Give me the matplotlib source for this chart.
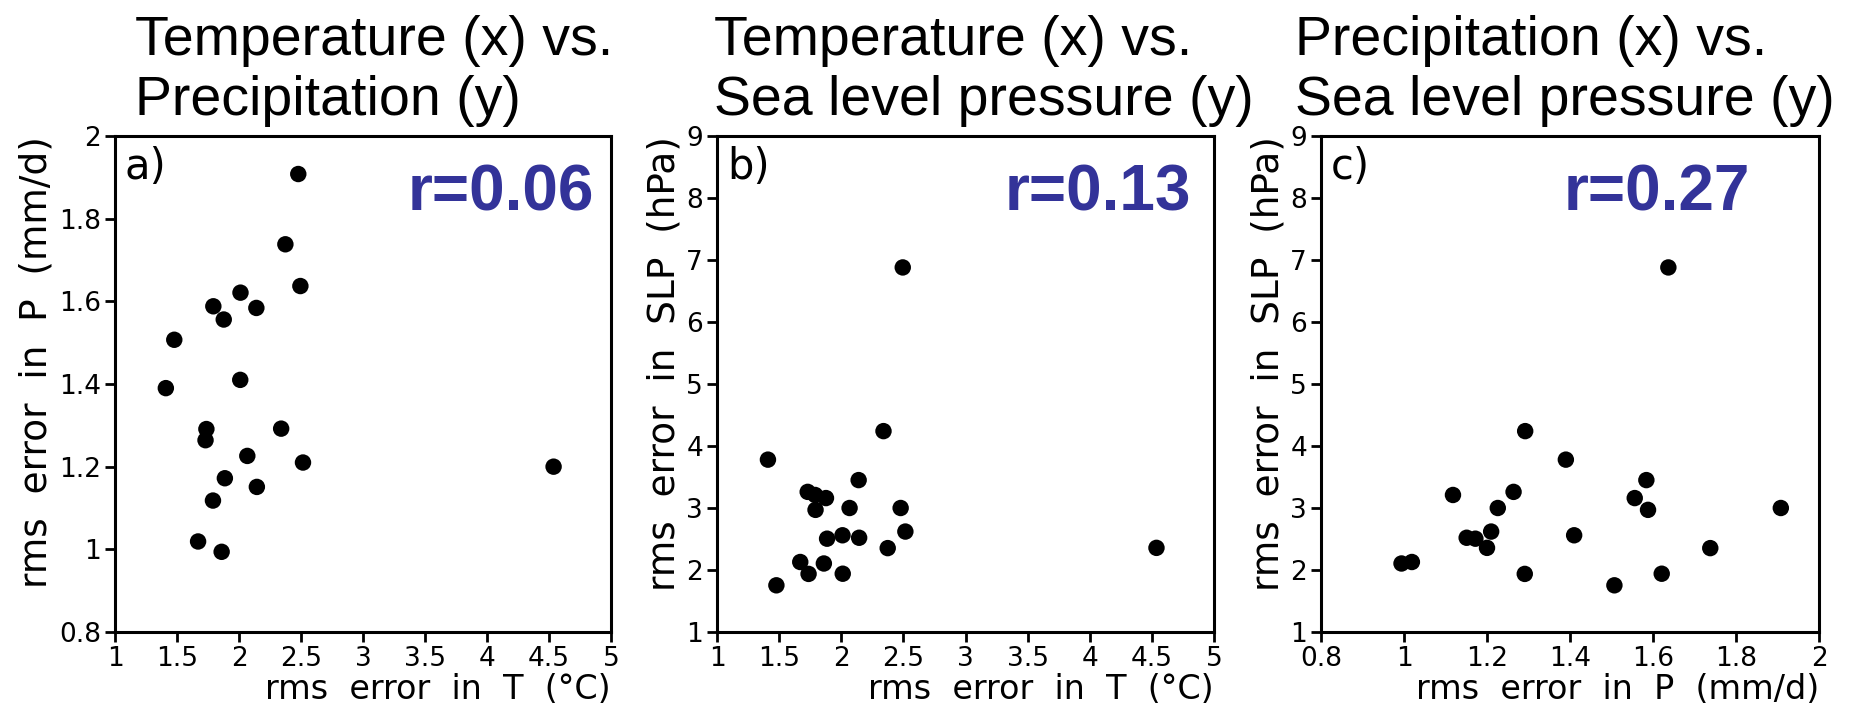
import matplotlib
matplotlib.use("Agg")
import matplotlib.pyplot as plt

# rms errors of the 21 models
temp_err = [2.495, 2.34, 1.41, 2.14, 1.79, 1.73, 1.877, 2.067, 1.793, 2.478, 2.516,
            2.144, 1.886, 4.537, 2.01, 2.374, 1.86, 1.67, 1.737, 2.012, 1.478]
prec_err = [1.637, 1.292, 1.39, 1.584, 1.118, 1.264, 1.556, 1.226, 1.588, 1.908, 1.21,
            1.151, 1.172, 1.20, 1.41, 1.738, 0.994, 1.019, 1.291, 1.621, 1.507]
slp_err = [6.88, 4.24, 3.78, 3.45, 3.21, 3.26, 3.16, 3.00, 2.97, 3.00, 2.62,
           2.52, 2.505, 2.357, 2.56, 2.353, 2.105, 2.129, 1.937, 1.94, 1.753]

titles = [("Temperature (x) vs.", "Precipitation (y)"),
          ("Temperature (x) vs.", "Sea level pressure (y)"),
          ("Precipitation (x) vs.", "Sea level pressure (y)")]
panel_tags = ["a)", "b)", "c)"]
r_values = ["r=0.06", "r=0.13", "r=0.27"]
x_labels = ["rms  error  in  T  (\u00b0C)", "rms  error  in  T  (\u00b0C)", "rms  error  in  P  (mm/d)"]
y_labels = ["rms  error  in  P  (mm/d)", "rms  error  in  SLP  (hPa)", "rms  error  in  SLP  (hPa)"]

x_ticks_T = [1, 1.5, 2, 2.5, 3, 3.5, 4, 4.5, 5]
x_ticks_P = [0.8, 1, 1.2, 1.4, 1.6, 1.8, 2]
y_ticks_P = [0.8, 1, 1.2, 1.4, 1.6, 1.8, 2]
y_ticks_SLP = [1, 2, 3, 4, 5, 6, 7, 8, 9]

W, H = 1851, 710
fig = plt.figure(figsize=(W / 100, H / 100), dpi=100)

# pixel boxes of the three panels: left, right, top, bottom
boxes = [(115, 611, 136, 632), (717, 1214, 136, 632), (1321, 1819, 136, 632)]
title_x = [135, 714, 1295]
r_x = [0.589, 0.578, 0.488]

series = [(temp_err, prec_err, x_ticks_T, y_ticks_P),
          (temp_err, slp_err, x_ticks_T, y_ticks_SLP),
          (prec_err, slp_err, x_ticks_P, y_ticks_SLP)]

label_font = "DejaVu Sans"
blue = "#333399"


def fmt(v):
    return "%g" % v


for i, (xs, ys, xt, yt) in enumerate(series):
    l, r, t, b = boxes[i]
    ax = fig.add_axes([l / W, (H - b) / H, (r - l) / W, (b - t) / H])
    ax.scatter(xs, ys, s=140, color="black", edgecolors="none", zorder=3)
    ax.set_xlim(xt[0], xt[-1])
    ax.set_ylim(yt[0], yt[-1])
    ax.set_xticks(xt)
    ax.set_yticks(yt)
    ax.set_xticklabels([fmt(v) for v in xt], fontsize=19, family=label_font)
    ax.set_yticklabels([fmt(v) for v in yt], fontsize=19, family=label_font)
    ax.tick_params(direction="out", length=7, width=2, pad=3, top=False, right=False)
    for sp in ax.spines.values():
        sp.set_linewidth(2.2)
    ax.set_xlabel(x_labels[i], loc="right", fontsize=24, family=label_font, labelpad=1)
    ax.set_ylabel(y_labels[i], loc="top", fontsize=27, family=label_font, labelpad=3)

    ax.text(0.02, 0.98, panel_tags[i], transform=ax.transAxes, ha="left", va="top",
            fontsize=30, family=label_font)
    ax.text(r_x[i], 0.849, r_values[i], transform=ax.transAxes, ha="left", va="baseline",
            fontsize=46, fontweight="bold", color=blue, family="Liberation Sans")

    # two line title above each panel
    fig.text(title_x[i] / W, 1 - 55 / H, titles[i][0], ha="left", va="baseline",
             fontsize=40, family="Liberation Sans")
    fig.text(title_x[i] / W, 1 - 115 / H, titles[i][1], ha="left", va="baseline",
             fontsize=40, family="Liberation Sans")

fig.savefig("out.png", dpi=100)
